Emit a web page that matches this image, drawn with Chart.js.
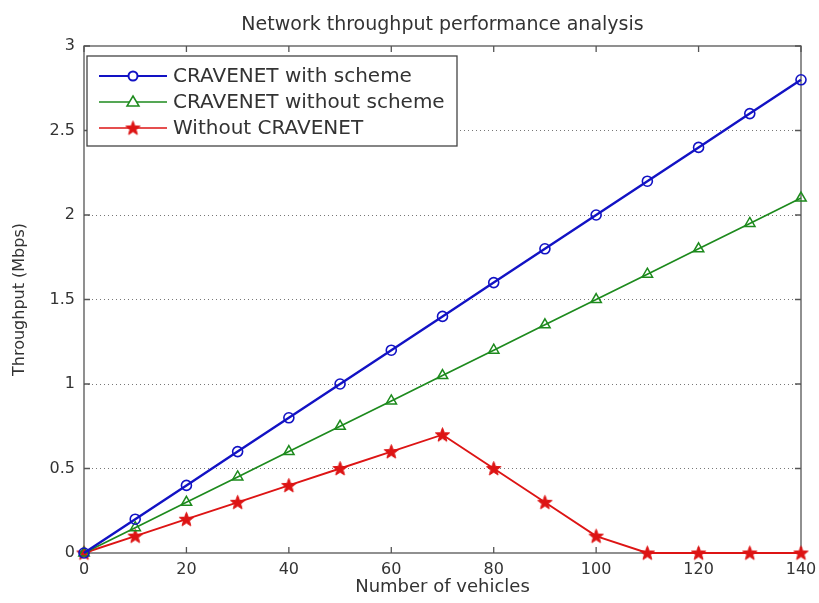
<!DOCTYPE html>
<html>
<head>
<meta charset="utf-8">
<script src="https://cdn.jsdelivr.net/npm/chart.js@4"></script>
<style>
  html, body { margin: 0; padding: 0; background: #fff; }
  #wrap { width: 819px; height: 603px; }
</style>
</head>
<body>
<div id="wrap"><canvas id="chart"></canvas></div>
<script>
const vehicles = [0, 10, 20, 30, 40, 50, 60, 70, 80, 90, 100, 110, 120, 130, 140];
const withScheme = [0, 0.2, 0.4, 0.6, 0.8, 1.0, 1.2, 1.4, 1.6, 1.8, 2.0, 2.2, 2.4, 2.6, 2.8];
const withoutScheme = [0, 0.15, 0.3, 0.45, 0.6, 0.75, 0.9, 1.05, 1.2, 1.35, 1.5, 1.65, 1.8, 1.95, 2.1];
const withoutCravenet = [0, 0.1, 0.2, 0.3, 0.4, 0.5, 0.6, 0.7, 0.5, 0.3, 0.1, 0, 0, 0, 0];
const seriesNames = ['CRAVENET with scheme', 'CRAVENET without scheme', 'Without CRAVENET'];
const chartTitle = 'Network throughput performance analysis';
const xTicks = [0, 20, 40, 60, 80, 100, 120, 140];
const yTicks = [0, 0.5, 1, 1.5, 2, 2.5, 3];

const BLUE = '#1212c4';
const GREEN = '#1d8a1d';
const RED = '#dd1414';
const FONT = "'DejaVu Sans', 'Liberation Sans', sans-serif";

// filled pentagram like matlab's 'p' marker
function makeStar(color, r) {
    const c = document.createElement('canvas');
    const s = Math.ceil(r * 2 + 4);
    c.width = s; c.height = s;
    const g = c.getContext('2d');
    g.translate(s / 2, s / 2 + 0.5);
    g.beginPath();
    for (let i = 0; i < 10; i++) {
        const rad = i % 2 === 0 ? r : r * 0.42;
        const a = -Math.PI / 2 + i * Math.PI / 5;
        g.lineTo(Math.cos(a) * rad, Math.sin(a) * rad);
    }
    g.closePath();
    g.fillStyle = color;
    g.fill();
    g.strokeStyle = color;
    g.lineWidth = 1;
    g.stroke();
    return c;
}
const starImg = makeStar(RED, 7.5);

const toPoints = (ys) => vehicles.map((x, i) => ({ x: x, y: ys[i] }));

// title over the axes, box, inward ticks and legend drawn on top like matlab
const matlabFrame = {
    id: 'matlabFrame',
    beforeDatasetsDraw(chart) {
        const { ctx, chartArea: a, scales } = chart;
        ctx.save();
        ctx.fillStyle = '#333';
        ctx.font = '19px ' + FONT;
        ctx.textAlign = 'center';
        ctx.textBaseline = 'middle';
        ctx.fillText(chartTitle, (a.left + a.right) / 2, 25);

        ctx.strokeStyle = '#555';
        ctx.lineWidth = 1.3;
        ctx.strokeRect(a.left, a.top, a.right - a.left, a.bottom - a.top);
        ctx.beginPath();
        xTicks.forEach((v) => {
            const px = scales.x.getPixelForValue(v);
            ctx.moveTo(px, a.bottom); ctx.lineTo(px, a.bottom - 6);
            ctx.moveTo(px, a.top); ctx.lineTo(px, a.top + 6);
        });
        yTicks.forEach((v) => {
            const py = scales.y.getPixelForValue(v);
            ctx.moveTo(a.left, py); ctx.lineTo(a.left + 6, py);
            ctx.moveTo(a.right, py); ctx.lineTo(a.right - 6, py);
        });
        ctx.stroke();
        ctx.restore();
    },
    afterDatasetsDraw(chart) {
        const { ctx } = chart;
        ctx.save();
        const lx = 87, ly = 56, lw = 370, lh = 90;
        ctx.fillStyle = '#fff';
        ctx.fillRect(lx, ly, lw, lh);
        ctx.strokeStyle = '#444';
        ctx.lineWidth = 1.3;
        ctx.strokeRect(lx, ly, lw, lh);
        const colors = [BLUE, GREEN, RED];
        ctx.font = '20px ' + FONT;
        ctx.textBaseline = 'middle';
        seriesNames.forEach((name, i) => {
            const y = ly + 20 + i * 26;
            ctx.strokeStyle = colors[i];
            ctx.lineWidth = i === 0 ? 2 : 1.5;
            ctx.beginPath();
            ctx.moveTo(lx + 12, y); ctx.lineTo(lx + 80, y);
            ctx.stroke();
            const cx = lx + 46;
            ctx.beginPath();
            if (i === 0) {
                ctx.arc(cx, y, 4.5, 0, Math.PI * 2);
                ctx.fillStyle = '#fff';
                ctx.fill();
                ctx.stroke();
            } else if (i === 1) {
                ctx.moveTo(cx, y - 6); ctx.lineTo(cx + 6, y + 4); ctx.lineTo(cx - 6, y + 4);
                ctx.closePath();
                ctx.fillStyle = '#fff';
                ctx.fill();
                ctx.stroke();
            } else {
                ctx.drawImage(starImg, cx - starImg.width / 2, y - starImg.height / 2);
            }
            ctx.fillStyle = '#333';
            ctx.fillText(name, lx + 86, y + 1);
        });
        ctx.restore();
    }
};

new Chart(document.getElementById('chart'), {
    type: 'line',
    data: {
        datasets: [{
            label: seriesNames[0],
            data: toPoints(withScheme),
            borderColor: BLUE,
            borderWidth: 2.4,
            pointStyle: 'circle',
            pointRadius: 5,
            pointBorderWidth: 1.6,
            pointBackgroundColor: 'rgba(255,255,255,0)',
            pointBorderColor: BLUE,
            clip: false,
        }, {
            label: seriesNames[1],
            data: toPoints(withoutScheme),
            borderColor: GREEN,
            borderWidth: 1.7,
            pointStyle: 'triangle',
            pointRadius: 6,
            pointBorderWidth: 1.5,
            pointBackgroundColor: 'rgba(255,255,255,0)',
            pointBorderColor: GREEN,
            clip: false,
        }, {
            label: seriesNames[2],
            data: toPoints(withoutCravenet),
            borderColor: RED,
            borderWidth: 1.9,
            pointStyle: starImg,
            pointRadius: 7,
            clip: false,
        }]
    },
    options: {
        responsive: true,
        maintainAspectRatio: false,
        animation: false,
        events: [],
        layout: { padding: { left: 0, right: 18, top: 46, bottom: 0 } },
        plugins: {
            legend: { display: false },
            tooltip: { enabled: false },
            title: { display: false },
        },
        scales: {
            x: {
                type: 'linear',
                min: 0,
                max: 140,
                afterBuildTicks: (s) => { s.ticks = xTicks.map((v) => ({ value: v })); },
                afterFit: (s) => { s.height = 50; s.paddingLeft = 0; s.paddingRight = 0; },
                ticks: {
                    font: { family: FONT, size: 16 },
                    color: '#333',
                    padding: 7,
                    maxRotation: 0,
                    callback: (v) => String(v),
                },
                grid: { display: false, drawTicks: false },
                border: { display: false },
                title: {
                    display: true,
                    text: 'Number of vehicles',
                    font: { family: FONT, size: 18 },
                    color: '#333',
                    padding: { top: 0, bottom: 5 },
                },
            },
            y: {
                min: 0,
                max: 3,
                afterBuildTicks: (s) => { s.ticks = yTicks.map((v) => ({ value: v })); },
                afterFit: (s) => { s.width = 84; s.paddingTop = 0; s.paddingBottom = 0; },
                ticks: {
                    font: { family: FONT, size: 16 },
                    color: '#333',
                    padding: 9,
                    callback: (v) => String(v),
                },
                grid: {
                    drawTicks: false,
                    color: (c) => (c.tick && (c.tick.value === 0 || c.tick.value === 3)) ? 'rgba(0,0,0,0)' : '#777',
                    lineWidth: 1,
                },
                border: { display: false, dash: [1, 3] },
                title: {
                    display: true,
                    text: 'Throughput (Mbps)',
                    font: { family: FONT, size: 16 },
                    color: '#333',
                    padding: { top: 10, bottom: 0 },
                },
            },
        },
    },
    plugins: [matlabFrame],
});
</script>
</body>
</html>
